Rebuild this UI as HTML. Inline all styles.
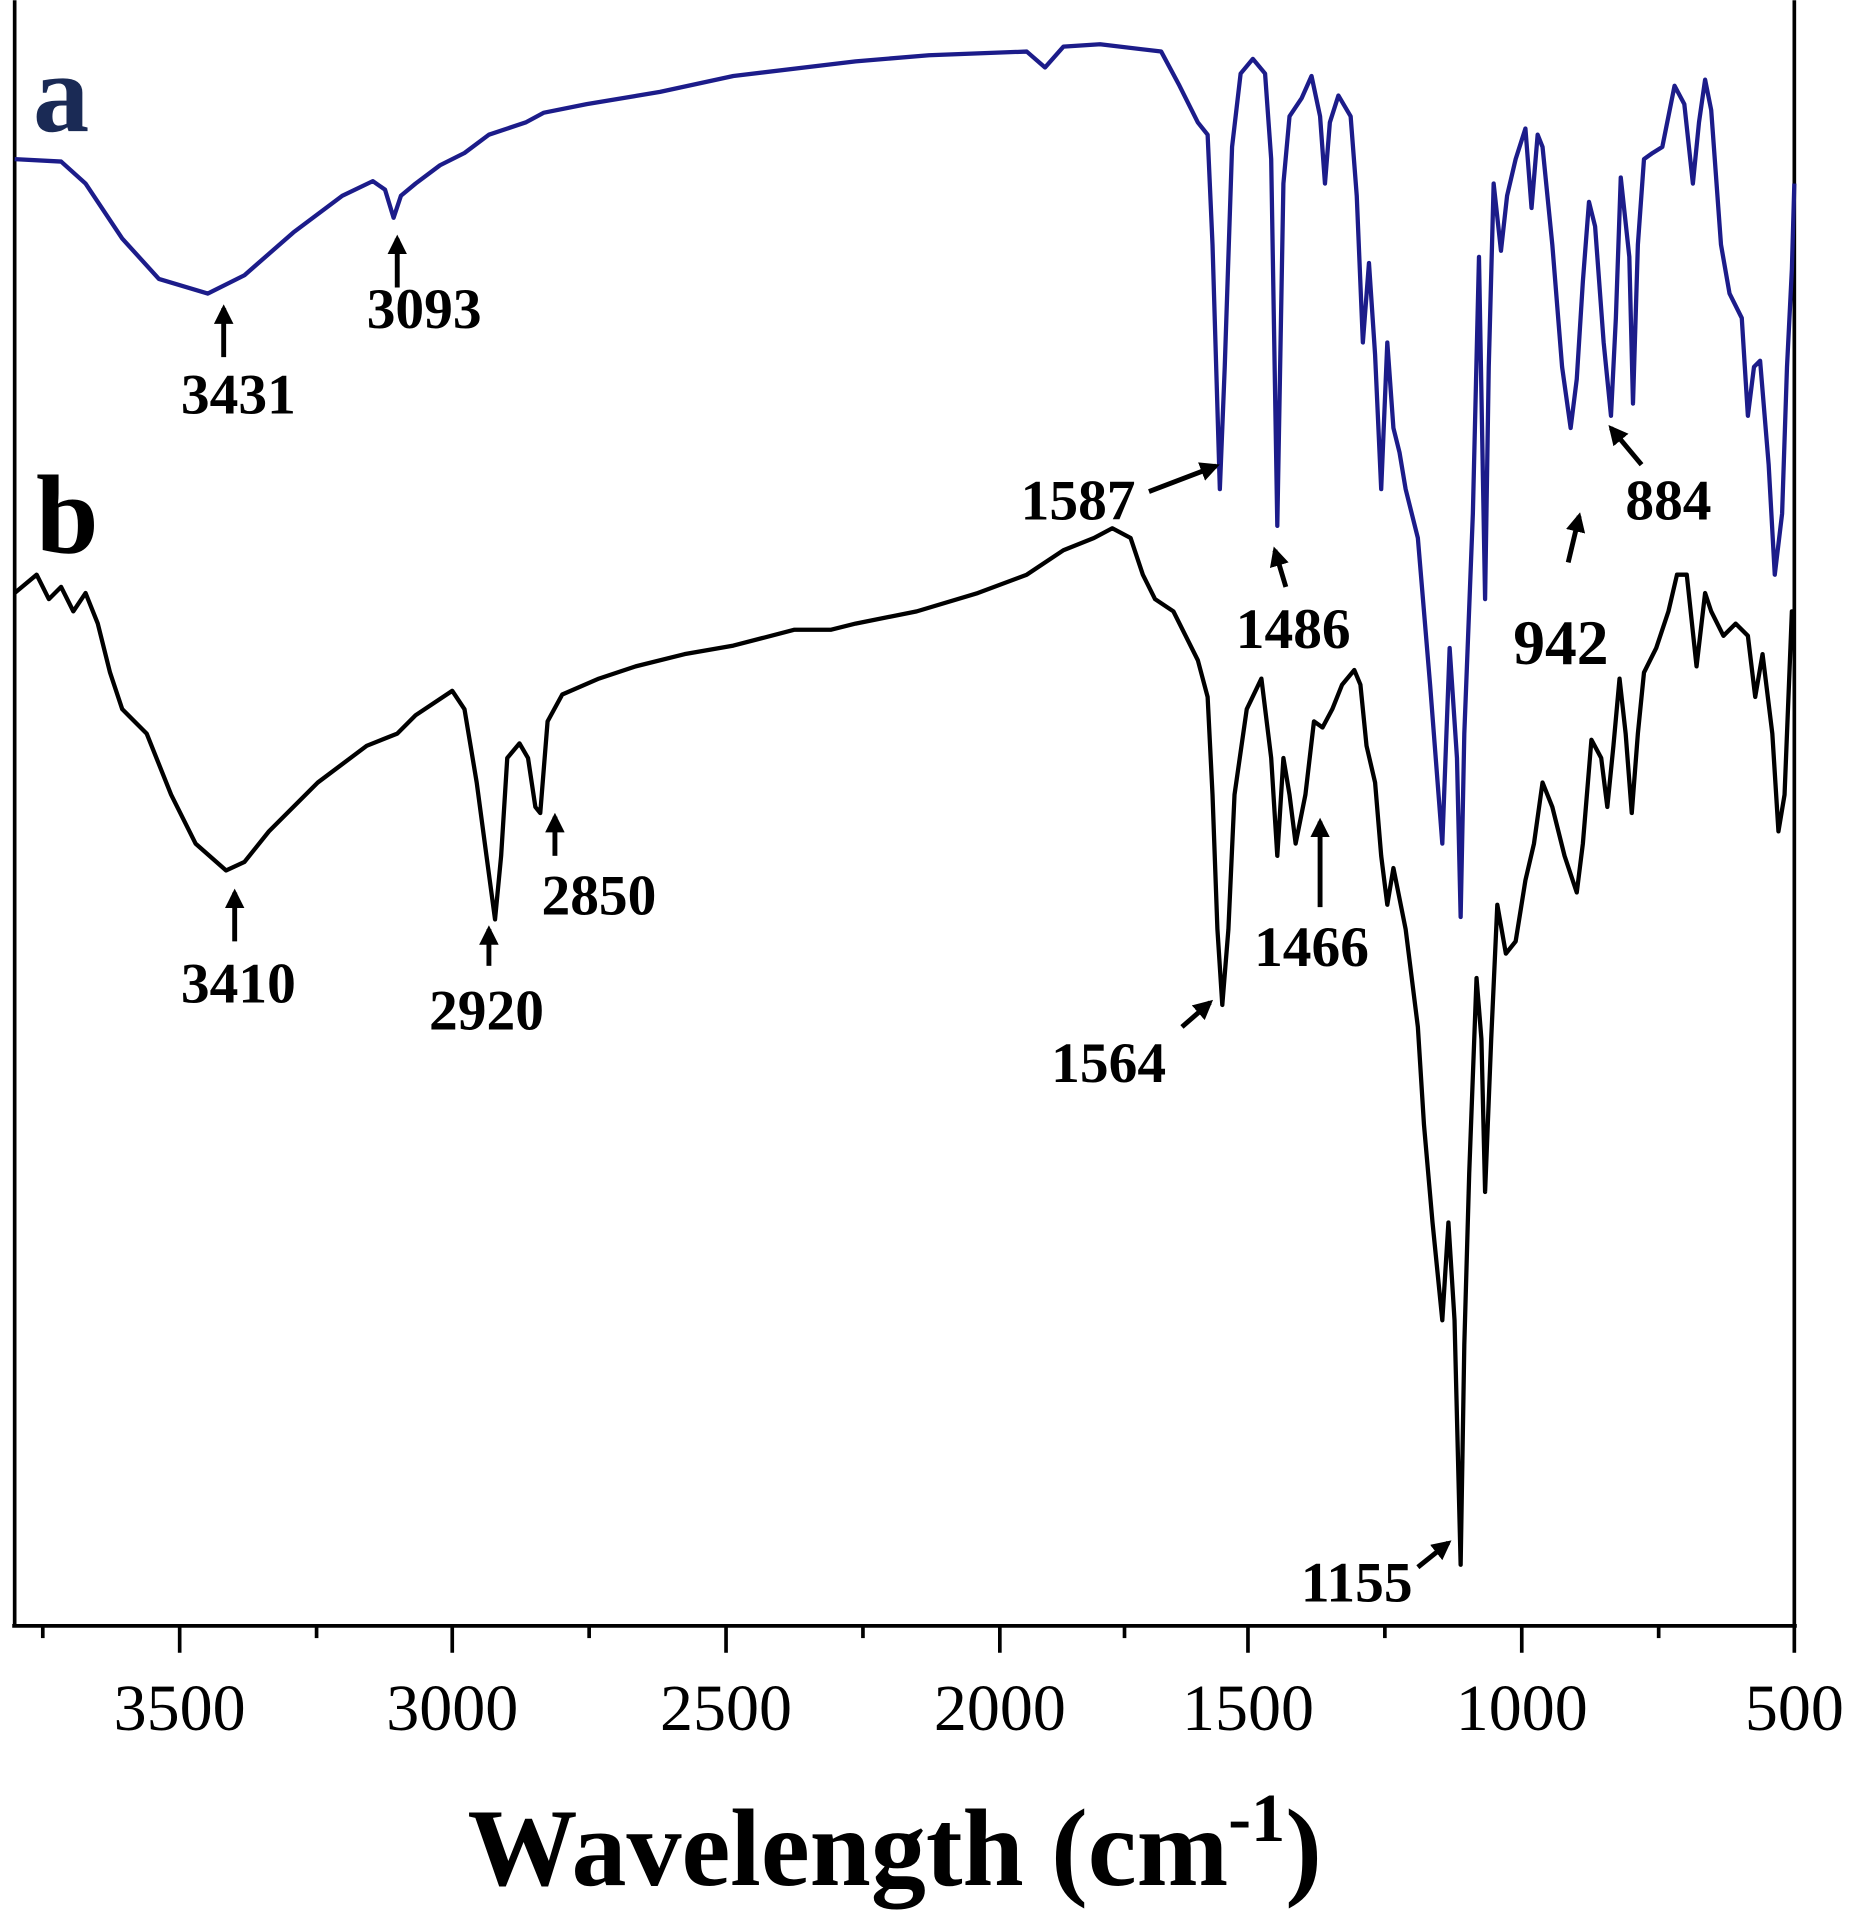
<!DOCTYPE html>
<html><head><style>html,body{margin:0;padding:0;background:#fff}svg{display:block}</style></head><body>
<svg width="1864" height="1917" viewBox="0 0 1525 1568" xmlns="http://www.w3.org/2000/svg" font-family="'Liberation Serif',serif">
<defs><marker id="ah" viewBox="0 0 10 10" refX="8" refY="5" markerWidth="4" markerHeight="4" orient="auto"><path d="M0,0L10,5L0,10z" fill="#000"/></marker></defs>
<g stroke="#000" stroke-width="3" fill="none">
<line x1="12" y1="0" x2="12" y2="1331"/>
<line x1="1468" y1="0" x2="1468" y2="1331"/>
<line x1="10" y1="1330" x2="1470" y2="1330"/>
<g stroke-width="3">
<line x1="35" y1="1330" x2="35" y2="1340"/>
<line x1="147" y1="1330" x2="147" y2="1352"/><line x1="259" y1="1330" x2="259" y2="1340"/>
<line x1="370" y1="1330" x2="370" y2="1352"/><line x1="482" y1="1330" x2="482" y2="1340"/>
<line x1="594" y1="1330" x2="594" y2="1352"/><line x1="706" y1="1330" x2="706" y2="1340"/>
<line x1="818" y1="1330" x2="818" y2="1352"/><line x1="920" y1="1330" x2="920" y2="1340"/>
<line x1="1021" y1="1330" x2="1021" y2="1352"/><line x1="1133" y1="1330" x2="1133" y2="1340"/>
<line x1="1245" y1="1330" x2="1245" y2="1352"/><line x1="1357" y1="1330" x2="1357" y2="1340"/>
<line x1="1468" y1="1330" x2="1468" y2="1352"/>
</g>
</g>
<polyline fill="none" stroke="#1c1c8a" stroke-width="3.5" stroke-linejoin="round" points="12,130 50,132 70,150 100,195 130,228 170,240 200,225 240,190 280,160 305,148 315,155 322,178 328,160 340,150 360,135 380,125 400,110 430,100 445,92 480,85 540,75 600,62 700,50 760,45 840,42 855,55 870,38 900,36 950,42 965,70 980,100 988,110 992,200 998,400 1002,300 1008,120 1015,60 1025,48 1035,60 1040,130 1045,430 1050,150 1055,95 1065,80 1073,62 1080,95 1084,150 1088,100 1095,78 1105,95 1110,160 1115,280 1120,215 1125,290 1130,400 1135,280 1140,350 1145,370 1150,400 1160,440 1170,560 1180,690 1186,530 1192,620 1195,750 1198,600 1205,420 1210,210 1215,490 1218,300 1222,150 1228,205 1233,160 1240,130 1248,105 1253,170 1258,110 1262,120 1270,200 1278,300 1285,350 1290,310 1295,230 1300,165 1305,185 1312,280 1318,340 1322,260 1326,145 1333,210 1336,330 1340,200 1345,130 1352,125 1360,120 1370,70 1378,85 1385,150 1390,100 1395,65 1400,90 1408,200 1415,240 1425,260 1430,340 1435,300 1440,295 1447,380 1452,470 1458,420 1462,300 1466,220 1468,150"/>
<polyline fill="none" stroke="#000" stroke-width="3.5" stroke-linejoin="round" points="12,485 30,470 40,490 50,480 60,500 70,485 80,510 90,550 100,580 120,600 140,650 160,690 185,712 200,705 220,680 260,640 300,610 325,600 340,585 370,565 380,580 390,640 398,700 405,752 410,700 415,620 425,608 432,620 438,660 442,665 448,590 460,568 490,555 520,545 560,535 600,528 650,515 680,515 700,510 750,500 800,485 840,470 870,450 895,440 910,432 925,440 935,470 945,490 960,500 970,520 980,540 988,570 992,650 996,760 1000,822 1005,760 1010,650 1020,580 1032,555 1040,620 1045,700 1050,620 1055,650 1060,690 1068,650 1075,590 1082,595 1090,580 1098,560 1108,548 1113,560 1118,610 1125,640 1130,700 1135,740 1140,710 1150,760 1160,840 1165,920 1172,1000 1180,1080 1185,1000 1190,1080 1195,1280 1198,1100 1202,960 1208,800 1212,850 1215,975 1220,850 1225,740 1232,780 1240,770 1248,720 1255,690 1262,640 1270,660 1280,700 1290,730 1295,690 1302,605 1310,620 1315,660 1320,610 1325,555 1330,600 1335,665 1340,600 1345,550 1355,530 1365,500 1372,470 1380,470 1388,545 1395,485 1400,500 1410,520 1420,510 1430,520 1436,570 1442,535 1450,600 1455,680 1460,650 1466,500 1468,500"/>
<g stroke="#000" stroke-width="4" marker-end="url(#ah)">
<line x1="183" y1="292" x2="183" y2="252"/>
<line x1="325" y1="235" x2="325" y2="195"/>
<line x1="940" y1="402" x2="995" y2="381"/>
<line x1="1052" y1="480" x2="1043" y2="450"/>
<line x1="1283" y1="460" x2="1292" y2="422"/>
<line x1="1343" y1="380" x2="1318" y2="350"/>
<line x1="192" y1="770" x2="192" y2="730"/>
<line x1="400" y1="790" x2="400" y2="760"/>
<line x1="454" y1="700" x2="454" y2="668"/>
<line x1="1080" y1="742" x2="1080" y2="672"/>
<line x1="967" y1="840" x2="990" y2="820"/>
<line x1="1160" y1="1282" x2="1185" y2="1262"/>
</g>
<g font-weight="bold" font-size="47" text-anchor="middle" fill="#000">
<text x="195" y="338">3431</text><text x="347" y="268">3093</text>
<text x="882" y="425">1587</text><text x="1058" y="530">1486</text>
<text x="1277" y="543" font-size="52">942</text><text x="1365" y="425">884</text>
<text x="195" y="820">3410</text><text x="398" y="842">2920</text>
<text x="490" y="748">2850</text><text x="1073" y="790">1466</text>
<text x="907" y="885">1564</text><text x="1110" y="1310">1155</text>
</g>
<text x="50" y="107" font-size="92" font-weight="bold" text-anchor="middle" fill="#1a2a55">a</text>
<text x="55" y="452" font-size="92" font-weight="bold" text-anchor="middle" fill="#000">b</text>
<g font-size="54" text-anchor="middle" fill="#000">
<text x="147" y="1415">3500</text><text x="370" y="1415">3000</text><text x="594" y="1415">2500</text>
<text x="818" y="1415">2000</text><text x="1021" y="1415">1500</text><text x="1245" y="1415">1000</text><text x="1468" y="1415">500</text>
</g>
<text x="732" y="1542" font-size="90" font-weight="bold" text-anchor="middle" fill="#000">Wavelength (cm<tspan font-size="56" dy="-36">-1</tspan><tspan dy="36">)</tspan></text>
</svg>
</body></html>
